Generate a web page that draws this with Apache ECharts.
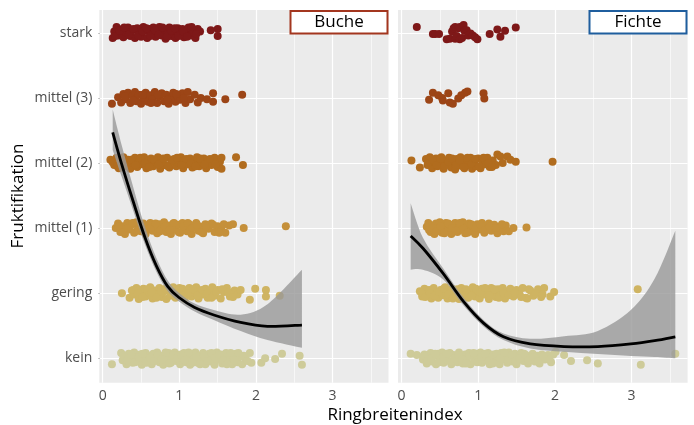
<!DOCTYPE html>
<html><head><meta charset="utf-8">
<script src="https://cdn.jsdelivr.net/npm/echarts@6/dist/echarts.min.js"></script>
<style>html,body{margin:0;padding:0;background:#fff}#c{width:694px;height:425px}</style>
</head><body><div id="c"></div>
<script>
// categories (index 0 = bottom)
const categories = ['kein', 'gering', 'mittel (1)', 'mittel (2)', 'mittel (3)', 'stark'];
const catColors = ['#cecb99', '#cfb462', '#c5903a', '#b16c1e', '#9c4516', '#7e1818'];
const xTicks = [0, 1, 2, 3];
const xMinor = [0.5, 1.5, 2.5, 3.5];
const panels = ['Buche', 'Fichte'];

// jittered points: [Ringbreitenindex, vertical jitter]
const bucheStark = [[0.13,-0.08],[0.15,0.02],[0.18,0.09],[0.20,-0.04],[0.24,0.05],[0.27,-0.07],[0.30,0.01],[0.33,0.08],[0.36,-0.05],[0.39,0.04],[0.42,-0.08],[0.45,0.07],[0.47,0.0],[0.50,-0.06],[0.53,0.09],[0.55,0.03],[0.58,-0.08],[0.61,0.06],[0.63,-0.02],[0.66,0.08],[0.69,-0.06],[0.71,0.02],[0.74,0.09],[0.77,-0.04],[0.79,0.05],[0.82,-0.09],[0.85,0.01],[0.87,0.08],[0.90,-0.05],[0.93,0.04],[0.95,-0.08],[0.98,0.07],[1.01,-0.02],[1.04,0.06],[1.06,-0.07],[1.09,0.03],[1.12,0.08],[1.15,-0.04],[1.18,0.05],[1.21,-0.08],[1.24,0.06],[1.27,0.02],[1.41,0.04],[1.50,0.06],[1.50,-0.05]];
const bucheStark2 = [[0.16,-0.05],[0.22,0.03],[0.28,0.08],[0.34,-0.03],[0.40,0.06],[0.46,-0.04],[0.52,0.02],[0.57,0.07],[0.62,-0.05],[0.68,0.04],[0.73,-0.03],[0.78,0.08],[0.84,-0.06],[0.89,0.03],[0.94,0.07],[0.99,-0.05],[1.05,0.02],[1.10,-0.06],[1.16,0.09],[1.22,-0.02]];
const bucheM3 = [[0.12,-0.09],[0.20,0.01],[0.24,-0.07],[0.27,0.06],[0.30,-0.02],[0.33,0.08],[0.36,-0.08],[0.39,0.03],[0.42,0.09],[0.44,-0.05],[0.47,0.05],[0.50,-0.09],[0.53,0.0],[0.56,0.08],[0.59,-0.06],[0.62,0.04],[0.65,-0.02],[0.68,0.09],[0.71,-0.08],[0.74,0.02],[0.77,0.07],[0.80,-0.05],[0.83,0.05],[0.86,-0.09],[0.89,0.0],[0.92,0.08],[0.95,-0.06],[0.98,0.03],[1.01,-0.03],[1.04,0.07],[1.08,-0.08],[1.11,0.09],[1.14,-0.02],[1.20,0.05],[1.24,-0.07],[1.28,0.0],[1.36,-0.02],[1.44,0.07],[1.44,-0.06],[1.60,-0.02],[1.82,0.05]];
const bucheM3b = [[0.29,0.02],[0.40,-0.04],[0.52,0.05],[0.63,-0.08],[0.72,0.05],[0.84,-0.03],[0.96,0.06],[1.06,0.0]];
const bucheM2 = [[0.10,0.05],[0.15,-0.03],[0.18,0.08],[0.21,-0.08],[0.24,0.02],[0.27,0.09],[0.30,-0.05],[0.33,0.05],[0.36,-0.09],[0.39,0.0],[0.42,0.08],[0.45,-0.06],[0.48,0.04],[0.51,-0.02],[0.54,0.09],[0.57,-0.08],[0.60,0.03],[0.63,0.07],[0.66,-0.05],[0.69,0.01],[0.72,0.09],[0.75,-0.09],[0.78,0.04],[0.81,-0.03],[0.84,0.08],[0.87,-0.07],[0.90,0.02],[0.93,0.06],[0.96,-0.05],[0.99,0.0],[1.02,0.09],[1.05,-0.08],[1.08,0.04],[1.11,-0.02],[1.14,0.07],[1.17,-0.07],[1.20,0.03],[1.23,0.09],[1.26,-0.05],[1.29,0.01],[1.32,0.07],[1.35,-0.08],[1.38,0.04],[1.42,-0.03],[1.46,0.08],[1.50,-0.06],[1.53,0.02],[1.55,0.08],[1.55,-0.09],[1.74,0.09],[1.83,-0.03]];
const bucheM2b = [[0.13,0.01],[0.19,-0.05],[0.25,0.06],[0.31,0.01],[0.37,0.05],[0.43,-0.03],[0.49,0.08],[0.55,0.0],[0.61,-0.06],[0.67,0.05],[0.73,-0.02],[0.79,0.07],[0.85,-0.05],[0.91,0.04],[0.97,0.08],[1.03,-0.03],[1.09,0.06],[1.15,0.0],[1.21,-0.05],[1.27,0.07],[1.33,-0.02],[1.40,0.06],[1.47,-0.02]];
const bucheM1 = [[0.17,0.0],[0.20,0.07],[0.23,-0.06],[0.26,0.03],[0.29,-0.09],[0.32,0.08],[0.35,-0.02],[0.38,0.05],[0.41,-0.07],[0.44,0.09],[0.47,0.01],[0.50,-0.05],[0.53,0.07],[0.56,-0.09],[0.59,0.03],[0.62,0.08],[0.65,-0.04],[0.68,0.02],[0.71,-0.08],[0.74,0.06],[0.77,0.0],[0.80,0.09],[0.83,-0.06],[0.86,0.04],[0.89,-0.09],[0.92,0.07],[0.95,-0.02],[0.98,0.05],[1.01,-0.07],[1.04,0.08],[1.07,0.01],[1.10,-0.05],[1.13,0.06],[1.16,-0.09],[1.19,0.03],[1.22,0.08],[1.25,-0.04],[1.28,0.02],[1.31,-0.08],[1.34,0.06],[1.38,-0.01],[1.42,0.07],[1.46,-0.06],[1.50,0.03],[1.55,-0.03],[1.60,-0.07],[1.65,0.04],[1.70,0.06],[1.84,0.0],[2.39,0.03]];
const bucheM1b = [[0.21,0.02],[0.27,-0.06],[0.33,0.0],[0.39,0.08],[0.45,-0.04],[0.51,0.05],[0.57,-0.02],[0.63,0.0],[0.69,0.07],[0.75,-0.05],[0.81,0.02],[0.87,-0.03],[0.93,0.08],[0.99,-0.06],[1.05,0.03],[1.11,0.08],[1.17,0.0],[1.23,0.05],[1.29,-0.06],[1.35,0.02],[1.44,0.05],[1.52,-0.07],[1.58,0.06]];
const bucheGering = [[0.25,0.0],[0.35,-0.07],[0.38,0.04],[0.41,-0.02],[0.44,0.08],[0.47,-0.09],[0.50,0.02],[0.53,0.07],[0.56,-0.05],[0.59,0.01],[0.62,0.09],[0.65,-0.08],[0.68,0.04],[0.71,-0.02],[0.74,0.08],[0.77,-0.06],[0.80,0.03],[0.83,-0.09],[0.86,0.06],[0.89,0.0],[0.92,0.09],[0.95,-0.07],[0.98,0.04],[1.01,-0.03],[1.04,0.07],[1.07,-0.09],[1.10,0.02],[1.13,0.08],[1.16,-0.05],[1.19,0.01],[1.22,0.09],[1.25,-0.08],[1.28,0.04],[1.31,-0.02],[1.34,0.07],[1.37,-0.07],[1.40,0.03],[1.43,0.09],[1.46,-0.04],[1.50,0.05],[1.54,-0.08],[1.58,0.02],[1.62,0.08],[1.66,-0.05],[1.72,0.04],[1.76,-0.02],[1.80,0.05],[1.92,-0.10],[1.99,0.07],[2.13,0.05],[2.13,-0.05],[2.31,-0.04]];
const bucheGering2 = [[0.40,0.05],[0.46,0.0],[0.52,-0.06],[0.58,0.06],[0.64,0.01],[0.70,-0.07],[0.76,0.04],[0.82,0.07],[0.88,-0.04],[0.94,0.02],[1.00,0.08],[1.06,-0.05],[1.12,0.0],[1.18,0.06],[1.24,-0.03],[1.30,0.05],[1.36,0.0],[1.42,-0.07],[1.48,0.02],[1.56,0.06],[1.64,0.01],[1.70,-0.06]];
const bucheKein = [[0.12,-0.09],[0.24,0.08],[0.26,-0.03],[0.29,0.04],[0.31,-0.09],[0.34,0.07],[0.36,0.0],[0.39,-0.07],[0.41,0.09],[0.44,0.02],[0.46,-0.05],[0.49,0.06],[0.51,-0.1],[0.54,0.01],[0.56,0.08],[0.59,-0.04],[0.61,0.04],[0.64,-0.09],[0.66,0.07],[0.69,-0.01],[0.71,0.09],[0.74,-0.06],[0.76,0.03],[0.79,-0.1],[0.81,0.06],[0.84,-0.02],[0.86,0.08],[0.89,-0.07],[0.91,0.02],[0.94,0.09],[0.96,-0.04],[0.99,0.05],[1.01,-0.09],[1.04,0.0],[1.06,0.08],[1.09,-0.06],[1.11,0.03],[1.14,-0.1],[1.16,0.07],[1.19,-0.02],[1.21,0.09],[1.24,-0.07],[1.26,0.04],[1.29,-0.04],[1.31,0.08],[1.34,-0.09],[1.36,0.01],[1.39,0.07],[1.41,-0.05],[1.44,0.04],[1.46,-0.1],[1.49,0.09],[1.51,-0.02],[1.54,0.06],[1.56,-0.08],[1.59,0.02],[1.61,0.08],[1.64,-0.05],[1.66,0.05],[1.69,-0.09],[1.71,0.0],[1.74,0.07],[1.76,-0.06],[1.79,0.03],[1.82,-0.09],[1.86,0.0],[1.92,0.08],[1.94,-0.07],[2.07,-0.07],[2.12,0.0],[2.25,-0.01],[2.34,0.07],[2.57,0.04],[2.60,-0.10]];
const bucheKein2 = [[0.27,0.04],[0.32,-0.03],[0.37,0.06],[0.42,-0.06],[0.47,0.02],[0.52,0.07],[0.57,-0.07],[0.62,0.01],[0.67,-0.04],[0.72,0.05],[0.77,-0.02],[0.82,0.09],[0.87,-0.08],[0.92,0.05],[0.97,0.0],[1.02,0.06],[1.07,-0.03],[1.12,0.09],[1.17,-0.07],[1.22,0.02],[1.27,-0.09],[1.32,0.04],[1.37,-0.04],[1.42,0.08],[1.47,0.0],[1.52,0.05],[1.57,-0.03],[1.62,-0.09],[1.67,0.08],[1.72,-0.03],[1.77,0.08],[1.84,0.04],[1.89,-0.04]];

const fichteStark = [[0.20,0.09],[0.41,-0.02],[0.44,-0.02],[0.49,-0.02],[0.59,-0.10],[0.63,-0.09],[0.66,0.02],[0.68,0.07],[0.70,0.09],[0.70,-0.09],[0.72,-0.05],[0.74,0.07],[0.76,0.09],[0.76,-0.10],[0.79,-0.08],[0.81,0.12],[0.82,0.03],[0.85,0.04],[0.87,-0.04],[0.90,-0.01],[0.93,-0.04],[0.96,-0.07],[0.99,-0.10],[1.15,-0.02],[1.25,0.05],[1.29,-0.06],[1.35,0.03],[1.49,0.08]];
const fichteM3 = [[0.36,-0.03],[0.41,0.08],[0.48,0.04],[0.53,0.0],[0.54,-0.04],[0.61,0.07],[0.63,-0.07],[0.67,-0.09],[0.74,-0.01],[0.78,0.04],[0.83,0.08],[0.86,0.1],[1.07,0.07],[1.08,-0.01]];
const fichteM2 = [[0.13,0.04],[0.24,-0.07],[0.32,0.06],[0.34,-0.03],[0.37,0.09],[0.40,-0.08],[0.42,0.02],[0.45,0.07],[0.47,-0.05],[0.50,0.0],[0.52,0.09],[0.55,-0.09],[0.57,0.04],[0.60,-0.02],[0.62,0.08],[0.65,-0.07],[0.67,0.03],[0.70,-0.1],[0.72,0.06],[0.75,-0.04],[0.77,0.09],[0.80,0.0],[0.82,-0.08],[0.85,0.05],[0.87,-0.03],[0.90,0.08],[0.92,-0.09],[0.95,0.02],[0.97,-0.05],[1.00,0.07],[1.03,-0.08],[1.06,0.03],[1.09,-0.02],[1.12,0.08],[1.15,-0.06],[1.19,0.04],[1.23,-0.03],[1.25,0.13],[1.29,0.1],[1.32,0.0],[1.38,0.1],[1.42,0.05],[1.49,0.02],[1.97,0.02]];
const fichteM2b = [[0.35,0.0],[0.41,0.05],[0.46,-0.03],[0.51,0.06],[0.56,-0.05],[0.61,0.02],[0.66,0.07],[0.71,-0.03],[0.76,0.04],[0.81,-0.06],[0.86,0.08],[0.91,-0.01],[0.96,0.06],[1.01,-0.05],[1.07,0.08],[1.13,0.0],[1.18,-0.06]];
const fichteM1 = [[0.33,0.02],[0.35,0.08],[0.38,-0.06],[0.40,0.04],[0.43,-0.09],[0.45,0.07],[0.48,-0.01],[0.50,0.09],[0.53,-0.07],[0.55,0.03],[0.58,0.08],[0.60,-0.04],[0.63,0.05],[0.65,-0.09],[0.68,0.01],[0.70,0.08],[0.73,-0.06],[0.75,0.04],[0.78,-0.02],[0.80,0.09],[0.83,-0.08],[0.85,0.02],[0.88,0.07],[0.90,-0.05],[0.93,0.03],[0.96,-0.09],[0.99,0.06],[1.02,-0.02],[1.05,0.08],[1.08,-0.07],[1.11,0.03],[1.14,0.07],[1.17,-0.04],[1.21,0.05],[1.25,-0.08],[1.29,0.02],[1.33,-0.05],[1.36,0.04],[1.40,-0.05],[1.46,0.0],[1.63,0.01]];
const fichteM1b = [[0.36,-0.03],[0.41,0.0],[0.46,-0.05],[0.51,0.03],[0.56,-0.08],[0.61,0.07],[0.66,0.0],[0.71,-0.04],[0.76,0.08],[0.81,-0.01],[0.86,-0.07],[0.91,0.06],[0.97,0.0],[1.03,0.05],[1.09,-0.03],[1.15,0.02],[1.23,0.0],[1.31,0.06]];
const fichteGering = [[0.24,0.03],[0.27,-0.05],[0.30,0.07],[0.33,-0.02],[0.36,0.05],[0.39,-0.08],[0.42,0.08],[0.45,0.0],[0.48,-0.07],[0.51,0.05],[0.54,-0.03],[0.57,0.09],[0.60,-0.08],[0.63,0.02],[0.66,0.07],[0.69,-0.05],[0.72,0.03],[0.75,-0.09],[0.78,0.08],[0.81,-0.01],[0.84,0.06],[0.87,-0.07],[0.90,0.02],[0.93,0.09],[0.96,-0.05],[0.99,0.04],[1.02,-0.08],[1.05,0.07],[1.08,-0.02],[1.11,0.05],[1.14,-0.09],[1.17,0.08],[1.20,0.0],[1.23,-0.06],[1.26,0.06],[1.29,-0.03],[1.32,0.08],[1.35,-0.08],[1.38,0.03],[1.42,0.07],[1.46,-0.05],[1.50,0.05],[1.54,-0.02],[1.58,0.08],[1.62,-0.07],[1.64,-0.08],[1.68,0.04],[1.72,-0.04],[1.78,0.06],[1.82,-0.06],[1.86,0.08],[1.94,-0.05],[1.99,0.02],[3.08,0.06]];
const fichteGering2 = [[0.26,0.01],[0.31,-0.06],[0.37,0.0],[0.43,-0.04],[0.49,0.02],[0.55,0.07],[0.61,-0.02],[0.67,-0.08],[0.73,0.06],[0.79,-0.05],[0.85,0.0],[0.91,-0.04],[0.97,0.07],[1.03,0.01],[1.09,0.08],[1.15,-0.03],[1.21,0.06],[1.27,-0.07],[1.33,0.0],[1.40,-0.03],[1.48,0.0],[1.56,-0.06],[1.66,0.06],[1.75,0.0],[1.84,-0.02]];
const fichteKein = [[0.12,0.07],[0.20,0.05],[0.28,-0.02],[0.30,0.06],[0.33,-0.08],[0.35,0.02],[0.38,0.08],[0.40,-0.05],[0.43,0.04],[0.45,-0.09],[0.48,0.07],[0.50,-0.01],[0.53,0.09],[0.55,-0.07],[0.58,0.03],[0.60,-0.03],[0.63,0.08],[0.65,-0.09],[0.68,0.05],[0.70,0.0],[0.73,-0.06],[0.75,0.09],[0.78,0.02],[0.80,-0.08],[0.83,0.06],[0.85,-0.03],[0.88,0.08],[0.90,-0.09],[0.93,0.03],[0.95,-0.05],[0.98,0.07],[1.00,-0.01],[1.03,0.09],[1.05,-0.07],[1.08,0.04],[1.10,-0.03],[1.13,0.08],[1.15,-0.09],[1.18,0.02],[1.20,0.06],[1.23,-0.06],[1.25,0.03],[1.28,-0.09],[1.30,0.08],[1.33,-0.02],[1.35,0.05],[1.38,-0.07],[1.40,0.09],[1.43,0.0],[1.45,-0.05],[1.48,0.07],[1.50,-0.09],[1.53,0.03],[1.56,0.08],[1.59,-0.04],[1.62,0.05],[1.65,-0.08],[1.68,0.02],[1.71,0.07],[1.74,-0.05],[1.77,0.04],[1.80,-0.08],[1.83,0.06],[1.87,-0.02],[1.91,0.05],[1.95,-0.06],[2.01,0.10],[2.12,0.05],[2.21,-0.04],[2.42,-0.03],[2.56,-0.08],[3.12,-0.10],[3.57,0.07]];
const fichteKein2 = [[0.29,0.04],[0.34,-0.04],[0.39,0.0],[0.44,0.07],[0.49,-0.06],[0.54,0.02],[0.59,0.07],[0.64,-0.05],[0.69,0.0],[0.74,0.05],[0.79,-0.02],[0.84,-0.08],[0.89,0.04],[0.94,0.08],[0.99,-0.06],[1.04,0.02],[1.09,0.07],[1.14,-0.04],[1.19,-0.08],[1.24,0.07],[1.29,0.0],[1.34,0.09],[1.39,-0.03],[1.44,0.05],[1.49,-0.05],[1.54,0.0],[1.60,0.07],[1.66,-0.03],[1.72,0.02],[1.78,-0.05],[1.85,0.03],[1.93,-0.02],[1.98,0.06]];

// smoother fit with confidence band
const bucheFitX   = [0.13, 0.25, 0.40, 0.55, 0.70, 0.85, 1.00, 1.20, 1.45, 1.80, 2.15, 2.60];
const bucheFitY   = [3.47, 2.97, 2.40, 1.86, 1.42, 1.10, 0.93, 0.78, 0.665, 0.55, 0.49, 0.51];
const bucheFitUp  = [3.82, 3.26, 2.62, 2.02, 1.54, 1.19, 1.00, 0.84, 0.74, 0.67, 0.83, 1.36];
const bucheFitLow = [3.20, 2.78, 2.26, 1.75, 1.33, 1.03, 0.87, 0.72, 0.59, 0.42, 0.28, 0.16];
const fichteFitX   = [0.12, 0.28, 0.545, 0.81, 1.07, 1.33, 1.68, 2.12, 2.56, 2.99, 3.30, 3.57];
const fichteFitY   = [1.88, 1.69, 1.30, 0.87, 0.54, 0.33, 0.22, 0.18, 0.18, 0.22, 0.27, 0.33];
const fichteFitUp  = [2.38, 1.85, 1.38, 0.93, 0.59, 0.38, 0.30, 0.34, 0.42, 0.74, 1.22, 1.96];
const fichteFitLow = [1.36, 1.36, 1.21, 0.81, 0.49, 0.28, 0.15, 0.10, 0.065, 0.035, 0.02, 0.0];

const pointSets = [
  [[bucheKein, bucheKein2], [bucheGering, bucheGering2], [bucheM1, bucheM1b], [bucheM2, bucheM2b], [bucheM3, bucheM3b], [bucheStark, bucheStark2]],
  [[fichteKein, fichteKein2], [fichteGering, fichteGering2], [fichteM1, fichteM1b], [fichteM2, fichteM2b], [fichteM3], [fichteStark]]
];
const fits = [
  {x: bucheFitX, y: bucheFitY, up: bucheFitUp, low: bucheFitLow},
  {x: fichteFitX, y: fichteFitY, up: fichteFitUp, low: fichteFitLow}
];

// Catmull-Rom spline through pixel points -> SVG cubic segments
function splineSegs(pts) {
  let d = '';
  for (let i = 0; i < pts.length - 1; i++) {
    const p0 = pts[i - 1] || pts[i], p1 = pts[i], p2 = pts[i + 1], p3 = pts[i + 2] || pts[i + 1];
    const c1 = [p1[0] + (p2[0] - p0[0]) / 6, p1[1] + (p2[1] - p0[1]) / 6];
    const c2 = [p2[0] - (p3[0] - p1[0]) / 6, p2[1] - (p3[1] - p1[1]) / 6];
    d += ' C' + c1[0] + ',' + c1[1] + ' ' + c2[0] + ',' + c2[1] + ' ' + p2[0] + ',' + p2[1];
  }
  return d;
}

const FONT = '"Open Sans", sans-serif';
const chart = echarts.init(document.getElementById('c'), null, {renderer: 'canvas'});

const grids = [
  {left: 99.3, top: 10, width: 289.2, height: 372.7},
  {left: 398, top: 10, width: 289.6, height: 372.7}
];

const xAxes = [], yAxes = [], series = [];
grids.forEach((g, gi) => {
  g.show = true; g.backgroundColor = '#ebebeb'; g.borderWidth = 0;
  xAxes.push({
    type: 'value', gridIndex: gi, min: -0.045, max: 3.73,
    axisLine: {show: false}, splitLine: {show: false},
    axisTick: {show: true, customValues: xTicks, length: 4, lineStyle: {color: '#333', width: 1}},
    axisLabel: {customValues: xTicks, color: '#4d4d4d', fontSize: 14, fontFamily: FONT, margin: 6,
      formatter: v => String(Math.round(v))}
  });
  yAxes.push({
    type: 'value', gridIndex: gi, min: -0.375, max: 5.35,
    axisLine: {show: false}, splitLine: {show: false},
    axisTick: {show: gi === 0, customValues: [0,1,2,3,4,5], length: 4, lineStyle: {color: '#333', width: 1}},
    axisLabel: {show: gi === 0, customValues: [0,1,2,3,4,5], color: '#4d4d4d', fontSize: 14, fontFamily: FONT, margin: 7,
      formatter: v => categories[Math.round(v)]}
  });
  const gridLines = [];
  xMinor.forEach(v => gridLines.push({xAxis: v, lineStyle: {color: '#fff', width: 0.6, type: 'solid'}}));
  xTicks.forEach(v => gridLines.push({xAxis: v, lineStyle: {color: '#fff', width: 1.2, type: 'solid'}}));
  categories.forEach((c, i) => gridLines.push({yAxis: i, lineStyle: {color: '#fff', width: 1.2, type: 'solid'}}));

  pointSets[gi].forEach((sets, ci) => {
    const pts = [].concat(...sets);
    const s = {
      type: 'scatter', xAxisIndex: gi, yAxisIndex: gi, silent: true, animation: false,
      symbol: 'circle', symbolSize: 8, z: 2,
      itemStyle: {color: catColors[ci], opacity: 1},
      data: pts.map(p => [p[0], ci + p[1]])
    };
    if (ci === 0) {
      s.markLine = {silent: true, symbol: 'none', animation: false, z: 1, label: {show: false},
        lineStyle: {color: '#fff', type: 'solid'}, emphasis: {disabled: true}, data: gridLines};
    }
    series.push(s);
  });
  const f = fits[gi];
  series.push({
    type: 'custom', xAxisIndex: gi, yAxisIndex: gi, silent: true, animation: false, z: 3,
    data: [[f.x[0], f.y[0]]],
    renderItem: (params, api) => {
      const up = f.x.map((x, i) => api.coord([x, f.up[i]]));
      const low = f.x.map((x, i) => api.coord([x, f.low[i]])).reverse();
      const mid = f.x.map((x, i) => api.coord([x, f.y[i]]));
      const bandPath = 'M' + up[0][0] + ',' + up[0][1] + splineSegs(up) +
        ' L' + low[0][0] + ',' + low[0][1] + splineSegs(low) + ' Z';
      const linePath = 'M' + mid[0][0] + ',' + mid[0][1] + splineSegs(mid);
      return {type: 'group', children: [
        {type: 'path', shape: {pathData: bandPath}, style: {fill: '#999999', opacity: 0.8}},
        {type: 'path', shape: {pathData: linePath}, style: {stroke: '#000', lineWidth: 2.8, fill: 'none'}}
      ]};
    }
  });
});

const stripBoxes = [
  {x: 290.5, w: 97, color: '#a3361f', text: panels[0]},
  {x: 589.5, w: 97, color: '#1f5e9e', text: panels[1]}
];
const graphics = [];
stripBoxes.forEach(b => {
  graphics.push({type: 'rect', z: 10, shape: {x: b.x, y: 11, width: b.w, height: 22.5},
    style: {fill: '#fff', stroke: b.color, lineWidth: 2}});
  graphics.push({type: 'text', z: 11, x: b.x + b.w / 2, y: 22.5,
    style: {text: b.text, fill: '#000', font: '17px ' + FONT, textAlign: 'center', textVerticalAlign: 'middle'}});
});
graphics.push({type: 'text', z: 11, x: 395, y: 415,
  style: {text: 'Ringbreitenindex', fill: '#000', font: '17px ' + FONT, textAlign: 'center', textVerticalAlign: 'middle'}});
graphics.push({type: 'text', z: 11, x: 18, y: 196, rotation: Math.PI / 2,
  style: {text: 'Fruktifikation', fill: '#000', font: '17px ' + FONT, textAlign: 'center', textVerticalAlign: 'middle'}});

chart.setOption({
  animation: false,
  grid: grids,
  xAxis: xAxes,
  yAxis: yAxes,
  series: series,
  graphic: graphics
});
</script></body></html>
